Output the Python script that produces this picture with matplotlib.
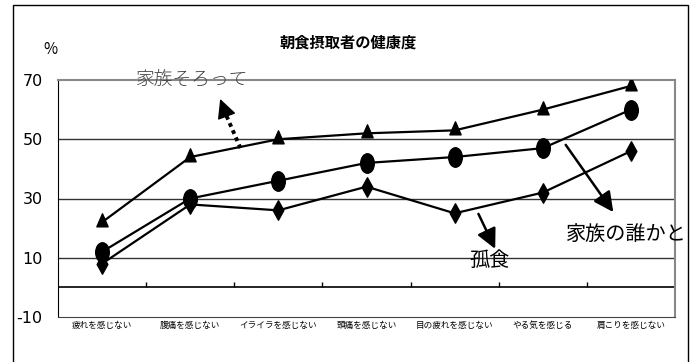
import numpy as np
import matplotlib.pyplot as plt
from matplotlib.path import Path
from matplotlib.patches import Rectangle
from matplotlib.transforms import Affine2D

plt.rcParams['font.family'] = ['Noto Sans CJK JP', 'DejaVu Sans']

categories = ['疲れを感じない', '腹痛を感じない', 'イライラを感じない', '頭痛を感じない',
              '目の疲れを感じない', 'やる気を感じる', '肩こりを感じない']
together = [22, 44, 50, 52, 53, 60, 68]      # 家族そろって
someone = [12, 30, 36, 42, 44, 47, 60]       # 家族の誰かと
alone = [8, 28, 26, 34, 25, 32, 46]          # 孤食
yticks = [-10, 10, 30, 50, 70]
grid_vals = [10, 30, 50]


def squeezed(path, sx):
    return path.transformed(Affine2D().scale(sx, 1.0))


tri = squeezed(Path.unit_regular_polygon(3), 0.75)
ellipse = squeezed(Path.unit_circle(), 0.7)
diamond = squeezed(Path.unit_regular_polygon(4), 0.55)

fig = plt.figure(figsize=(6.96, 3.62), dpi=100)
fig.patches.append(Rectangle((13 / 696, -0.05), 675 / 696, 1 - 5 / 362 + 0.05,
                             transform=fig.transFigure, fill=False,
                             edgecolor='black', linewidth=1))
ax = fig.add_axes([58 / 696, 1 - 317 / 362, 617 / 696, 237 / 362])

x = np.arange(len(categories))
ax.set_xlim(-0.5, len(categories) - 0.5)
ax.set_ylim(-10, 70)

for v in grid_vals:
    ax.axhline(v, color='#333333', linewidth=1, zorder=1)
ax.axhline(0, color='black', linewidth=1.2, zorder=1)
ax.vlines(x[:-1] + 0.5, 0, 1.8, color='black', linewidth=1, zorder=1)

ax.plot(x, together, color='black', linewidth=1.6, marker=tri, markersize=12.5, zorder=3)
ax.plot(x, someone, color='black', linewidth=1.6, marker=ellipse, markersize=14, zorder=3)
ax.plot(x, alone, color='black', linewidth=1.6, marker=diamond, markersize=14, zorder=3)

for s in ['top', 'right']:
    ax.spines[s].set_color('#888888')
    ax.spines[s].set_linewidth(1.5)
ax.spines['left'].set_color('black')
ax.spines['bottom'].set_color('#444444')

ax.set_xticks(x)
ax.set_xticklabels(categories, fontsize=6.2)
ax.set_yticks(yticks)
ax.set_yticklabels([str(v) for v in yticks], fontsize=11.5, family='DejaVu Sans')
ax.tick_params(axis='x', length=0, pad=3)
ax.tick_params(axis='y', length=0, pad=11)

fig.text(50 / 696, 1 - 50 / 362, '%', fontsize=11, ha='center', va='center')
fig.text(348 / 696, 1 - 43 / 362, '朝食摂取者の健康度', fontsize=11,
         fontweight='bold', ha='center', va='center')

head = '-|>,head_length=0.6,head_width=0.3'
# dotted arrow for 家族そろって
ax.plot([1.57, 1.41], [47.0, 58.0], color='black', linewidth=2.8,
        linestyle=(0, (1, 1)), zorder=2)
ax.annotate('', xy=(1.34, 63.6), xytext=(1.41, 58.0),
            arrowprops=dict(arrowstyle=head, linewidth=1, color='black',
                            mutation_scale=20, shrinkA=0, shrinkB=0))
ax.annotate('', xy=(5.80, 25.4), xytext=(5.26, 48.1),
            arrowprops=dict(arrowstyle=head, linewidth=1.8, color='black',
                            mutation_scale=20, shrinkA=0, shrinkB=0))
ax.annotate('', xy=(4.46, 13.0), xytext=(4.27, 24.8),
            arrowprops=dict(arrowstyle=head, linewidth=1.8, color='black',
                            mutation_scale=20, shrinkA=0, shrinkB=0))
ax.text(1.02, 70, '家族そろって', fontsize=13.5, color='#444444', fontweight='light',
        ha='center', va='center', clip_on=False)
ax.text(5.95, 18.0, '家族の誰かと', fontsize=14.5, ha='center', va='center', clip_on=False)
ax.text(4.40, 9.0, '孤食', fontsize=14.5, ha='center', va='center')

fig.savefig('out.png', dpi=100)
